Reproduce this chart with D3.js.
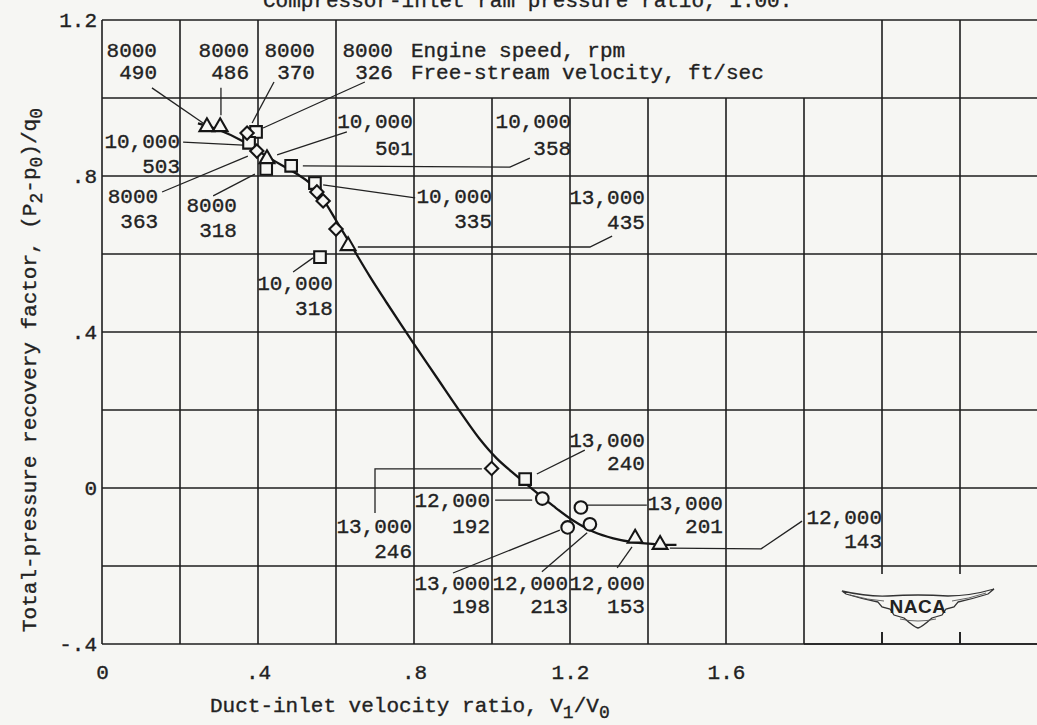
<!DOCTYPE html>
<html><head><meta charset="utf-8">
<script src="https://cdn.jsdelivr.net/npm/d3@7"></script>
<style>
html,body{margin:0;padding:0;background:#f6f6f3;overflow:hidden;}
svg{display:block;}
text{font-family:"Liberation Mono","DejaVu Sans Mono",monospace;fill:#222;stroke:#222;stroke-width:0.35px;}
</style></head><body>
<svg id="c" width="1037" height="725"></svg>
<script>
// ---------- data ----------
const titleText = "Compressor-inlet ram pressure ratio, 1.00.";
const xTitle = ["Duct-inlet velocity ratio, V", "1", "/V", "0"];
const yTitle = ["Total-pressure recovery factor, (P", "2", "-p", "0", ")/q", "0"];
const xTicks = [0, 0.4, 0.8, 1.2, 1.6];
const xTickLabels = ["0", ".4", ".8", "1.2", "1.6"];
const yTicks = [1.2, 0.8, 0.4, 0, -0.4];
const yTickLabels = ["1.2", ".8", ".4", "0", "-.4"];
const gridX = [0, 0.2, 0.4, 0.6, 0.8, 1.0, 1.2, 1.4, 1.6, 1.8, 2.0, 2.2];
const gridY = [1.2, 1.0, 0.8, 0.6, 0.4, 0.2, 0, -0.2, -0.4];

const trianglePts = [[0.269,0.926],[0.303,0.926],[0.423,0.844],[0.631,0.621],[1.367,-0.129],[1.431,-0.145]];
const squarePts   = [[0.395,0.913],[0.377,0.885],[0.421,0.818],[0.485,0.826],[0.546,0.782],[0.559,0.592],[1.085,0.023]];
const diamondPts  = [[0.372,0.910],[0.397,0.864],[0.551,0.759],[0.567,0.736],[0.600,0.664],[0.999,0.050]];
const circlePts   = [[1.129,-0.027],[1.228,-0.050],[1.194,-0.101],[1.251,-0.093]];

const curveX = [0.246,0.30,0.36,0.41,0.46,0.50,0.535,0.567,0.602,0.636,0.687,0.73,0.798,0.858,0.918,0.969,1.012,1.063,1.106,1.157,1.209,1.26,1.311,1.362,1.431,1.473];
const curveY = [0.935,0.918,0.89,0.858,0.828,0.805,0.78,0.74,0.683,0.627,0.542,0.475,0.372,0.284,0.196,0.125,0.076,0.031,-0.005,-0.046,-0.084,-0.112,-0.129,-0.139,-0.145,-0.146];

const headerText = ["Engine speed, rpm", "Free-stream velocity, ft/sec"];
const labelSpeeds = ["8000","8000","8000","8000","10,000","8000","8000","10,000","10,000","10,000","10,000","13,000","13,000","13,000","12,000","13,000","13,000","12,000","12,000","12,000"];
const labelVelocities = ["490","486","370","326","503","363","318","501","358","335","318","435","240","246","192","201","198","213","153","143"];

// annotation layout (data units): right edge x, baselines y1,y2, leader polyline
const labelLayout = [
  {x:0.141,y1:1.105,y2:1.049,leader:[[0.128,1.026],[0.259,0.936]]},
  {x:0.377,y1:1.105,y2:1.049,leader:[[0.305,1.026],[0.305,0.956]]},
  {x:0.546,y1:1.105,y2:1.049,leader:[[0.441,1.041],[0.385,0.936]]},
  {x:0.746,y1:1.105,y2:1.049,leader:[[0.674,1.041],[0.413,0.923]]},
  {x:0.200,y1:0.872,y2:0.808,leader:[[0.208,0.887],[0.362,0.879]]},
  {x:0.144,y1:0.731,y2:0.667,leader:[[0.154,0.759],[0.374,0.851]]},
  {x:0.346,y1:0.708,y2:0.644,leader:[[0.285,0.749],[0.392,0.805]]},
  {x:0.797,y1:0.923,y2:0.854,leader:[[0.628,0.913],[0.449,0.854]]},
  {x:1.203,y1:0.923,y2:0.854,leader:[[0.515,0.826],[1.046,0.823],[1.097,0.846]]},
  {x:1.000,y1:0.731,y2:0.667,leader:[[0.567,0.777],[0.803,0.744]]},
  {x:0.592,y1:0.508,y2:0.444,leader:[[0.490,0.554],[0.541,0.590]]},
  {x:1.392,y1:0.728,y2:0.664,leader:[[0.656,0.618],[1.251,0.618],[1.308,0.646]]},
  {x:1.392,y1:0.105,y2:0.046,leader:[[1.115,0.036],[1.238,0.097]]},
  {x:0.795,y1:-0.115,y2:-0.179,leader:[[0.700,-0.064],[0.700,0.049],[0.974,0.049]]},
  {x:0.995,y1:-0.049,y2:-0.115,leader:[[1.008,-0.031],[1.103,-0.031]]},
  {x:1.592,y1:-0.056,y2:-0.115,leader:[[1.246,-0.044],[1.397,-0.044]]},
  {x:0.995,y1:-0.262,y2:-0.321,leader:[[0.900,-0.218],[1.174,-0.108]]},
  {x:1.195,y1:-0.262,y2:-0.321,leader:[[1.128,-0.215],[1.244,-0.115]]},
  {x:1.392,y1:-0.262,y2:-0.321,leader:[[1.321,-0.205],[1.359,-0.151]]},
  {x:2.000,y1:-0.092,y2:-0.154,leader:[[1.456,-0.154],[1.690,-0.156],[1.795,-0.085]]}
];

// ---------- drawing ----------
const svg = d3.select("#c");
const W = 1037, H = 725, BG = "#f6f6f3";
const x = d3.scaleLinear().domain([0, 2.4]).range([102, 1038]);
const y = d3.scaleLinear().domain([-0.4, 1.2]).range([644, 20]);
const INK = "#1e1e1e";

svg.append("rect").attr("width", W).attr("height", H).attr("fill", BG);

// grid
const g = svg.append("g").attr("stroke", INK).attr("stroke-width", 1.6).attr("fill", "none");
g.selectAll("line.h").data(gridY).join("line")
  .attr("x1", x(0)).attr("x2", x(2.4)).attr("y1", d => y(d)).attr("y2", d => y(d));
g.selectAll("line.v").data(gridX).join("line")
  .attr("x1", d => x(d)).attr("x2", d => x(d))
  .attr("y1", d => (d > 0.7 && d < 1.9) ? y(1.0) : y(1.2))
  .attr("y2", y(-0.4));

// NACA logo backdrop (erases grid under it)
const lc = [918, 607];
svg.append("rect").attr("x", lc[0]-80).attr("y", lc[1]-33).attr("width", 160).attr("height", 58)
  .attr("fill", BG);
const g2 = svg.append("g").attr("stroke", INK).attr("stroke-width", 1.6).attr("fill", "none");
g2.selectAll("line").data([2.0, 2.2]).join("line")
  .attr("x1", d => x(d)).attr("x2", d => x(d)).attr("y1", y(-0.4) - 12).attr("y2", y(-0.4));
g2.append("line").attr("x1", x(1.8)).attr("x2", x(2.4)).attr("y1", y(-0.4)).attr("y2", y(-0.4));

const logo = svg.append("g").attr("transform", `translate(${lc[0]},${lc[1]})`);
logo.append("path")
  .attr("d", "M-76,-16 Q-50,-10 -30,-11 Q0,-13 30,-11 Q52,-11 76,-18 L70,-13 Q54,-8 40,-5 L36,0 L28,2 L24,8 L14,11 Q4,20 0,21 Q-4,20 -14,11 L-24,8 L-28,2 L-36,0 L-40,-5 Q-56,-8 -72,-13 Z")
  .attr("fill", BG).attr("stroke", "#333").attr("stroke-width", 1.3);
logo.append("path")
  .attr("d", "M-68,-12 Q-50,-7 -34,-6 M68,-14 Q50,-8 34,-6 M-18,12 Q0,16 18,12")
  .attr("fill", "none").attr("stroke", "#555").attr("stroke-width", 0.9);
logo.append("text").attr("x", 0).attr("y", 6).attr("text-anchor", "middle")
  .style("font-family", "'Liberation Sans','DejaVu Sans',sans-serif").style("font-weight", "600")
  .style("font-size", "19px").style("letter-spacing", "0.5px").style("stroke-width", "0").text("NACA");

// axes labels
const FS = "21px";
const yAxis = svg.append("g").attr("transform", `translate(${x(0)},0)`)
  .call(d3.axisLeft(y).tickValues(yTicks).tickSize(0).tickPadding(5).tickFormat((d,i) => yTickLabels[i]));
const xAxis = svg.append("g").attr("transform", `translate(0,${y(-0.4)})`)
  .call(d3.axisBottom(x).tickValues(xTicks).tickSize(0).tickPadding(20).tickFormat((d,i) => xTickLabels[i]));
[yAxis, xAxis].forEach(a => {
  a.select(".domain").remove();
  a.selectAll("text").style("font-size", FS).style("font-family", "'Liberation Mono',monospace").attr("fill", "#222");
});

// title (cut at top, as in the source scan)
svg.append("text").attr("x", 263).attr("y", 6.5).style("font-size", FS).text(titleText);

// x title
const xt = svg.append("text").attr("x", 210).attr("y", 712).style("font-size", FS);
xt.append("tspan").text(xTitle[0]);
xt.append("tspan").attr("dy", 6).style("font-size", "18px").text(xTitle[1]);
xt.append("tspan").attr("dy", -6).text(xTitle[2]);
xt.append("tspan").attr("dy", 6).style("font-size", "18px").text(xTitle[3]);

// y title
const yt = svg.append("text").attr("transform", "translate(36,632) rotate(-90)").style("font-size", FS);
yt.append("tspan").text(yTitle[0]);
yt.append("tspan").attr("dy", 6).style("font-size", "18px").text(yTitle[1]);
yt.append("tspan").attr("dy", -6).text(yTitle[2]);
yt.append("tspan").attr("dy", 6).style("font-size", "18px").text(yTitle[3]);
yt.append("tspan").attr("dy", -6).text(yTitle[4]);
yt.append("tspan").attr("dy", 6).style("font-size", "18px").text(yTitle[5]);

// header text
svg.append("text").attr("x", x(0.792)).attr("y", y(labelLayout[0].y1)).style("font-size", FS).text(headerText[0]);
svg.append("text").attr("x", x(0.792)).attr("y", y(labelLayout[0].y2)).style("font-size", FS).text(headerText[1]);

// leader lines
const lineGen = d3.line().x(d => x(d[0])).y(d => y(d[1]));
svg.append("g").selectAll("path").data(labelLayout).join("path")
  .attr("d", d => lineGen(d.leader)).attr("fill", "none").attr("stroke", "#222").attr("stroke-width", 1.3);

// labels
const lab = svg.append("g").selectAll("g").data(labelLayout).join("g");
lab.append("text").attr("x", d => x(d.x)).attr("y", d => y(d.y1)).attr("text-anchor", "end")
  .style("font-size", FS).text((d,i) => labelSpeeds[i]);
lab.append("text").attr("x", d => x(d.x)).attr("y", d => y(d.y2)).attr("text-anchor", "end")
  .style("font-size", FS).text((d,i) => labelVelocities[i]);

// fair curve
const curvePts = curveX.map((v,i) => [v, curveY[i]]);
svg.append("path").datum(curvePts)
  .attr("d", d3.line().x(d => x(d[0])).y(d => y(d[1])).curve(d3.curveCatmullRom.alpha(0.5)))
  .attr("fill", "none").attr("stroke", "#151515").attr("stroke-width", 2.3);

// markers
const mk = svg.append("g").attr("fill", BG).attr("stroke", "#151515").attr("stroke-width", 2.1);
mk.selectAll("path.tri").data(trianglePts).join("path")
  .attr("d", d3.symbol(d3.symbolTriangle, 95)())
  .attr("transform", d => `translate(${x(d[0])},${y(d[1])})`);
mk.selectAll("path.sq").data(squarePts).join("path")
  .attr("d", d3.symbol(d3.symbolSquare, 135)())
  .attr("transform", d => `translate(${x(d[0])},${y(d[1])})`);
mk.selectAll("path.dia").data(diamondPts).join("path")
  .attr("d", d3.symbol(d3.symbolSquare, 88)())
  .attr("transform", d => `translate(${x(d[0])},${y(d[1])}) rotate(45)`);
mk.selectAll("path.cir").data(circlePts).join("path")
  .attr("d", d3.symbol(d3.symbolCircle, 125)())
  .attr("transform", d => `translate(${x(d[0])},${y(d[1])})`);
</script>
</body></html>
